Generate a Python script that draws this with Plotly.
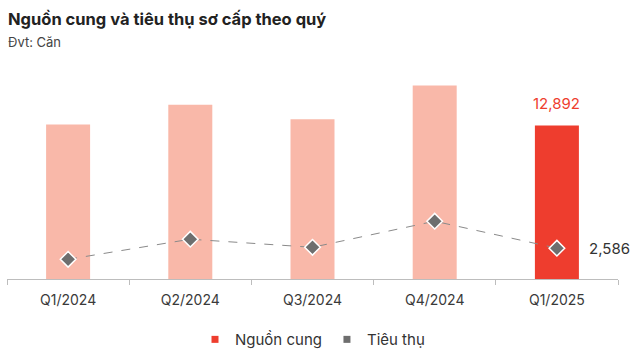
import plotly.graph_objects as go

categories = ["Q1/2024", "Q2/2024", "Q3/2024", "Q4/2024", "Q1/2025"]
supply = [12970, 14630, 13400, 16230, 12892]
demand = [1650, 3340, 2660, 4850, 2586]
supply_label = "12,892"
demand_label = "2,586"

bar_colors = ["#F9B8A9"] * 4 + ["#EE3D2E"]
FONT = "Inter"

fig = go.Figure()
fig.add_trace(go.Bar(
    x=categories, y=supply, marker=dict(color=bar_colors, line=dict(width=0)),
    width=0.36, showlegend=False, hoverinfo="skip"))
fig.add_trace(go.Scatter(
    x=categories, y=demand, mode="lines+markers",
    line=dict(color="#8a8a8a", width=1, dash="dash"),
    marker=dict(symbol="diamond", size=12, color="#6E6E6E", line=dict(color="white", width=1.5)),
    showlegend=False, hoverinfo="skip"))
# legend-only entries
fig.add_trace(go.Scatter(x=[None], y=[None], mode="markers", name="Nguồn cung",
                         marker=dict(symbol="square", size=7, color="#EE3D2E")))
fig.add_trace(go.Scatter(x=[None], y=[None], mode="markers", name="Tiêu thụ",
                         marker=dict(symbol="square", size=7, color="#6E6E6E")))

fig.add_annotation(x=categories[-1], y=supply[-1], text=supply_label, showarrow=False,
                   yshift=22, font=dict(family=FONT, size=15, color="#EE3D2E"))
fig.add_annotation(x=categories[-1], y=demand[-1], text=demand_label, showarrow=False,
                   xshift=53, font=dict(family=FONT, size=15, color="#333333"))

fig.add_annotation(xref="paper", yref="paper", x=-0.002, y=1.245, xanchor="left", yanchor="middle",
                   text="<b>Nguồn cung và tiêu thụ sơ cấp theo quý</b>", showarrow=False,
                   font=dict(family=FONT, size=16.5, color="#222222"))
fig.add_annotation(xref="paper", yref="paper", x=-0.002, y=1.135, xanchor="left", yanchor="middle",
                   text="Đvt: Căn", showarrow=False,
                   font=dict(family=FONT, size=13, color="#444444"))

fig.update_layout(
    width=640, height=354,
    margin=dict(l=7, r=22, t=70, b=75, autoexpand=False),
    paper_bgcolor="white", plot_bgcolor="white",
    font=dict(family=FONT, size=14, color="#333333"),
    legend=dict(orientation="h", x=0.5, xanchor="center", y=-0.29, yanchor="middle",
                font=dict(family=FONT, size=15, color="#333333"), itemwidth=30,
                traceorder="normal"),
    xaxis=dict(range=[-0.5, len(categories) - 0.5], autorange=False,
               showline=True, linecolor="#bdbdbd", linewidth=1, ticks="outside",
               tickson="boundaries", ticklen=5, tickcolor="#bdbdbd",
               tickfont=dict(family=FONT, size=14, color="#3a3a3a"),
               ticklabelstandoff=8, showgrid=False, fixedrange=True, automargin=False),
    yaxis=dict(range=[0, 17540], visible=False, showgrid=False, fixedrange=True, automargin=False),
    bargap=0.64,
)

fig.write_html("out.html", config={"displayModeBar": False})
